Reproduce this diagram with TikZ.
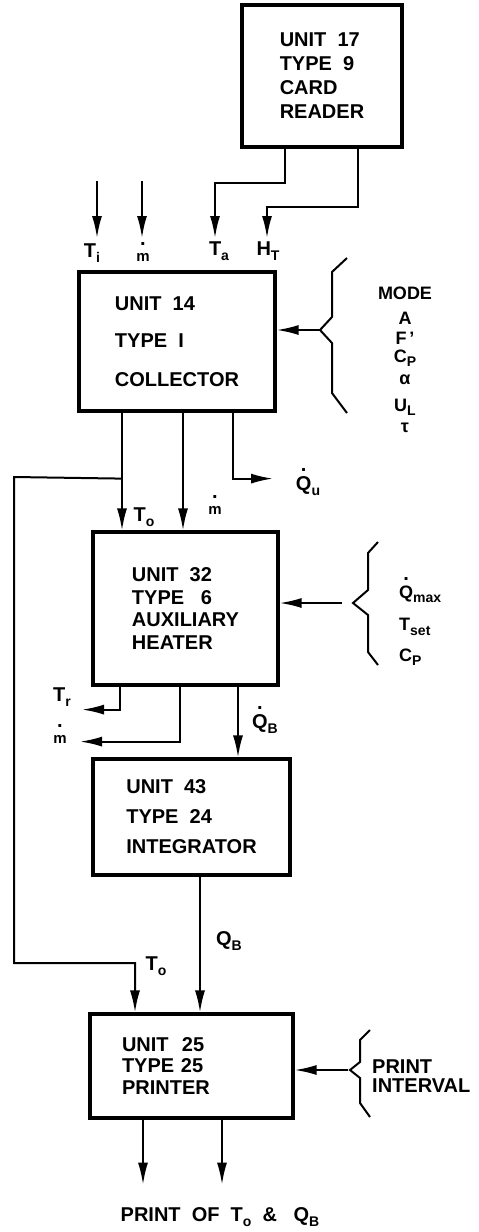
\documentclass[tikz,border=0pt]{standalone}
\usepackage{fontspec}
\setmainfont{Liberation Sans}
\usetikzlibrary{arrows.meta,positioning}
\newcommand\lbsub[1]{\raisebox{-0.45ex}{\fontsize{14}{14}\selectfont #1}}
\newcommand\dt[2][5pt]{\leavevmode\setbox0\hbox{#2}%
  \rlap{\hbox to\wd0{\hss\raisebox{\dimexpr\ht0+#1\relax}{\fontsize{20}{20}\selectfont.}\hss}}\box0}
\newcommand\mdot{\dt[7pt]{\fontsize{15}{15}\selectfont m}}

\begin{document}
\begin{tikzpicture}[x=1pt,y=-1pt,
    font=\bfseries\fontsize{20}{24}\selectfont,
    unitbox/.style={draw, line width=3.2pt, align=left, inner sep=0pt},
    flow/.style={line width=2pt, -{Latex[length=22pt,width=10pt]}},
    brace/.style={line width=2pt},
    param/.style={font=\bfseries\fontsize{18}{22}\selectfont, inner sep=0pt}]
\useasboundingbox (0,0) rectangle (479,1232);

% units
\node[unitbox, minimum width=160pt, minimum height=142pt] (reader) at (322,76)
    {UNIT~~17\\TYPE~~9\\CARD\\READER};
\node[unitbox, minimum width=196pt, minimum height=139pt] (coll) at (177,341.5)
    {UNIT~~14\\[13pt]TYPE~~I\\[15pt]COLLECTOR};
\node[unitbox, minimum width=185pt, minimum height=153pt] (heat) at (185.5,608.5)
    {UNIT~~32\\[-1.5pt]TYPE~~~6\\[-1.5pt]AUXILIARY\\[-1.5pt]HEATER};
\node[unitbox, minimum width=197pt, minimum height=116pt] (integ) at (191.5,817)
    {UNIT~~43\\[6pt]TYPE~~24\\[6pt]INTEGRATOR};
\node[unitbox, minimum width=203pt, minimum height=104pt, text width=139pt] (pr) at (191.5,1066)
    {UNIT~~25\\[-2.5pt]TYPE~25\\[-2.5pt]PRINTER};

% inputs of the collector
\coordinate (ta) at (215,238);
\coordinate (ht) at (267,238);
\draw[flow] ([xshift=-37pt]reader.south) -- ++(0,34) -| (ta);
\draw[flow] ([xshift=36pt]reader.south) -- ++(0,58) -| (ht);
\foreach \x/\n in {97/ti,142/mi} {
  \coordinate (\n) at (\x,238);
  \draw[flow] ([yshift=57pt]\n) -- (\n);
}
\node (lti) at (92,253) {T\lbsub{i}};
\node (lmi) at (143,252) {\mdot};
\node (lta) at (219,251) {T\lbsub{a}};
\node (lht) at (268,251) {H\lbsub{T}};

% collector parameters
\draw[brace] (347,258) -- (332,272) -- (332,317) -- (320,330) coordinate (cbr)
  -- (332,343) -- (332,393) -- (347,413);
\draw[flow] (cbr) -- (coll.east |- cbr);
\foreach \t/\y in {MODE/293,A/318,F\,'/338,C\lbsub{P}/358,α/380,U\lbsub{L}/407,τ/428}
  \node[param] (p\y) at (405,\y) {\t};

% collector outputs
\draw[flow] ([xshift=-55pt]coll.south) coordinate (to1) -- (to1 |- heat.north);
\draw[flow] ([xshift=6pt]coll.south) coordinate (m1) -- (m1 |- heat.north);
\draw[flow] ([xshift=56pt]coll.south) -- ++(0,66) -- ++(40,0);
\node (lqu) at (308,482) {\dt{Q}\lbsub{u}};
\node (lto1) at (144,517) {T\lbsub{o}};
\node (lm1) at (215,505) {\mdot};
\draw[flow] ([yshift=-66pt]to1) -- (14,477) -- (14,963) -| ([xshift=-56.5pt]pr.north);

% heater parameters
\draw[brace] (378,542) -- (368,553) -- (368,590) -- (353,603) coordinate (hbr)
  -- (368,615) -- (368,652) -- (378,665);
\draw[flow] ([xshift=-11pt]hbr) -- (heat.east |- hbr);
\node[param, anchor=west] (qmax) at (399,590) {\dt{Q}\lbsub{max}};
\node[param, anchor=west] (tset) at (399,627) {T\lbsub{set}};
\node[param, anchor=west] (cp2) at (399,657) {C\lbsub{P}};

% heater outputs
\draw[flow] ([xshift=-65.5pt]heat.south) -- ++(0,23) -- ++(-38,0);
\draw[flow] ([xshift=-5.5pt]heat.south) -- ++(0,55) -- ++(-100,0);
\draw[flow] ([xshift=52.5pt]heat.south) coordinate (qb1) -- (qb1 |- integ.north);
\node (ltr) at (62,697) {T\lbsub{r}};
\node (lm2) at (60,734) {\mdot};
\node (lqb1) at (265,720) {\dt{Q}\lbsub{B}};

% integrator output
\draw[flow] ([xshift=8.5pt]integ.south) coordinate (qb2) -- (qb2 |- pr.north);
\node (lqb2) at (229,941) {Q\lbsub{B}};
\node (lto2) at (156,966) {T\lbsub{o}};

% printer
\draw[brace] (370,1030) -- (360,1040) -- (360,1062) -- (350,1070) coordinate (pbr)
  -- (360,1078) -- (360,1103) -- (370,1117);
\draw[flow] ([xshift=-2pt]pbr) -- (pr.east |- pbr);
\node[anchor=west, align=left, inner sep=0pt, font=\bfseries\fontsize{20}{19}\selectfont]
  (intv) at (372,1076) {PRINT\\INTERVAL};
\foreach \dx in {-48.5,30.5}
  \draw[flow] ([xshift=\dx pt]pr.south) -- ++(0,65);
\node (out) at (220,1217) {PRINT~~OF~~T\lbsub{o}~~\&~~~Q\lbsub{B}};
\end{tikzpicture}
\end{document}
